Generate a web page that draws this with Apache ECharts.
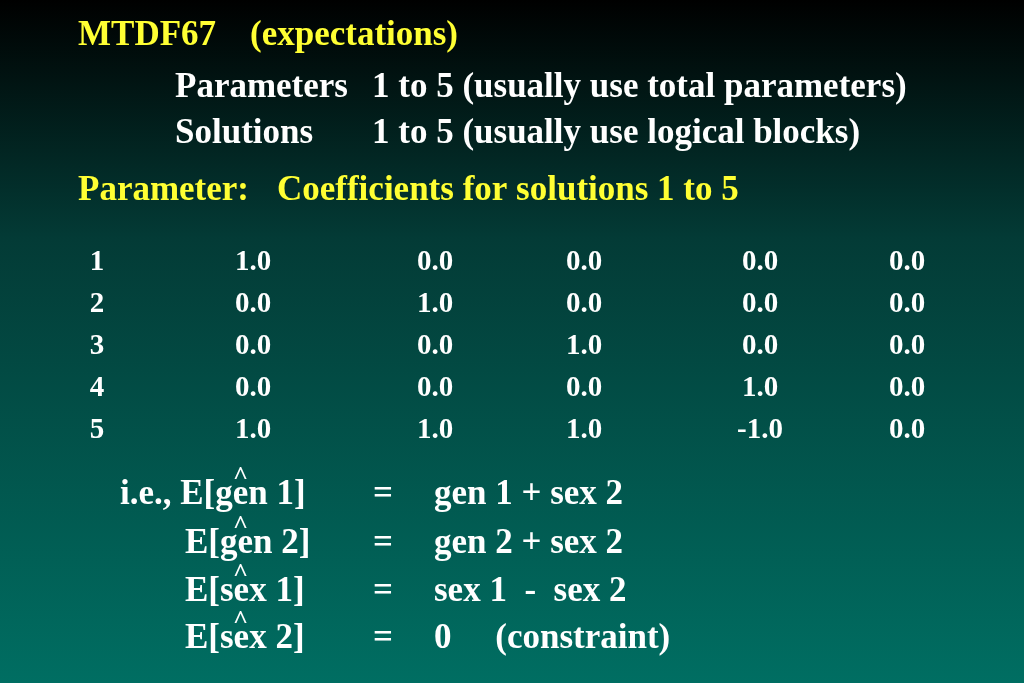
<!DOCTYPE html>
<html><head><meta charset="utf-8">
<script src="https://cdn.jsdelivr.net/npm/echarts@6/dist/echarts.min.js"></script>
<style>html,body{margin:0;padding:0}#c{width:1024px;height:683px}</style>
</head><body><div id="c"></div>
<script>
const rowLabels = ['1','2','3','4','5'];
const coefficients = [
  ['1.0','0.0','0.0','0.0','0.0'],
  ['0.0','1.0','0.0','0.0','0.0'],
  ['0.0','0.0','1.0','0.0','0.0'],
  ['0.0','0.0','0.0','1.0','0.0'],
  ['1.0','1.0','1.0','-1.0','0.0']
];
const eqLeft = ['i.e., E[gen 1]','E[gen 2]','E[sex 1]','E[sex 2]'];
const eqRight = ['gen 1 + sex 2','gen 2 + sex 2','sex 1  -  sex 2','0     (constraint)'];

const colX = [97, 253, 435, 584, 760, 907];
const F = '"Liberation Serif", serif';
const data = [];
rowLabels.forEach((r,i)=>{
  data.push({value:[colX[0], r], label:{formatter:r}});
  coefficients[i].forEach((v,j)=>data.push({value:[colX[j+1], r], label:{formatter:v}}));
});
function t(x,y,s,col,size){size=size||35;return {type:'text',left:x,top:y-size*0.5,style:{text:s,fill:col,font:'bold '+size+'px '+F}};}
const Y='#ffff33', W='#ffffff';
const g = [
  t(78,36,'MTDF67',Y), t(250,36,'(expectations)',Y),
  t(175,88,'Parameters',W), t(372,88,'1 to 5 (usually use total parameters)',W),
  t(175,134,'Solutions',W), t(372,134,'1 to 5 (usually use logical blocks)',W),
  t(78,191,'Parameter:',Y), t(277,191,'Coefficients for solutions 1 to 5',Y)
];
const eqY=[495,544,592,639], eqX=[120,185,185,185];
eqLeft.forEach((s,i)=>{
  g.push(t(eqX[i],eqY[i],s,W)); g.push(t(373,eqY[i],'=',W)); g.push(t(434,eqY[i],eqRight[i],W));
  g.push(t(233,eqY[i]-18,'^',W,26));
});
const chart = echarts.init(document.getElementById('c'));
chart.setOption({
  backgroundColor:{type:'linear',x:0,y:0,x2:0,y2:1,colorStops:[{offset:0,color:'#000000'},{offset:0.35,color:'#033b36'},{offset:1,color:'#006e62'}]},
  grid:{left:0,right:0,top:242,height:209},
  xAxis:{type:'value',min:0,max:1024,show:false},
  yAxis:{type:'category',data:rowLabels,inverse:true,show:false},
  series:[{type:'scatter',symbolSize:1,itemStyle:{opacity:0},data:data,silent:true,
    label:{show:true,position:'inside',color:'#ffffff',opacity:1,textBorderWidth:0,fontFamily:F,fontWeight:'bold',fontSize:29}}],
  graphic:g
});
</script></body></html>
